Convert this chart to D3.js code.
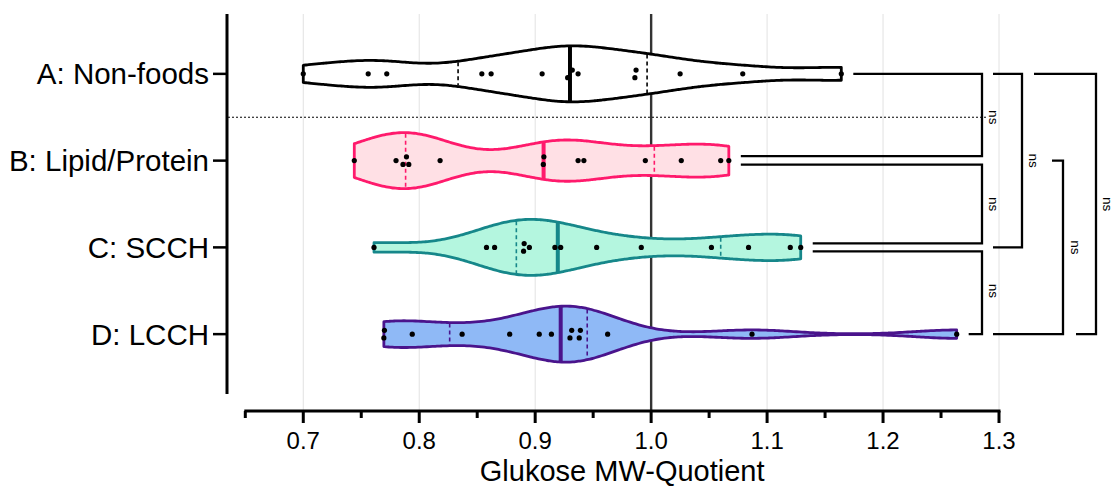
<!DOCTYPE html>
<html>
<head>
<meta charset="utf-8">
<script src="https://cdn.jsdelivr.net/npm/d3@7"></script>
<style>
  html, body { margin: 0; padding: 0; background: #ffffff; }
  svg { display: block; }
  text { font-family: Arial, "Liberation Sans", sans-serif; fill: #000; }
</style>
</head>
<body>
<svg id="chart" width="1114" height="491"></svg>
<script>
// Group labels (top to bottom)
const categories = ["A: Non-foods", "B: Lipid/Protein", "C: SCCH", "D: LCCH"];

// Glucose MW-quotient per item, one array per group
const nonFoods = [0.700, 0.756, 0.772, 0.854, 0.862, 0.906, 0.928, 0.932, 0.937, 0.986, 0.987, 1.025, 1.079, 1.164];
const lipidProtein = [0.744, 0.780, 0.786, 0.789, 0.791, 0.818, 0.907, 0.9075, 0.937, 0.942, 0.995, 1.026, 1.060, 1.067];
const scch = [0.761, 0.858, 0.865, 0.890, 0.8905, 0.895, 0.917, 0.922, 0.953, 0.9915, 1.052, 1.084, 1.120, 1.129];
const lcch = [0.7695, 0.770, 0.794, 0.837, 0.878, 0.9035, 0.914, 0.930, 0.9315, 0.938, 0.939, 0.9625, 1.087, 1.2635];

// Axis ticks
const majorTicks = [0.7, 0.8, 0.9, 1.0, 1.1, 1.2, 1.3];
const minorTicks = [0.65, 0.75, 0.85, 0.95, 1.05, 1.15, 1.25];
const tickLabels = ["0.7", "0.8", "0.9", "1.0", "1.1", "1.2", "1.3"];
const axisTitle = "Glukose MW-Quotient";

// Pairwise comparisons and their results
const comparisonPairs = [["A", "B"], ["B", "C"], ["C", "D"], ["A", "C"], ["B", "D"], ["A", "D"]];
const comparisonLabels = ["ns", "ns", "ns", "ns", "ns", "ns"];

const groupValues = [nonFoods, lipidProtein, scch, lcch];
const groupStyles = [
  { fill: "#ffffff", stroke: "#000000" },
  { fill: "#ffe0e5", stroke: "#ff1a6c" },
  { fill: "#b4f6df", stroke: "#16878a" },
  { fill: "#8fb9f6", stroke: "#4a148c" }
];

const svg = d3.select("#chart");

const x = d3.scaleLinear().domain([0.65, 1.3]).range([245.3, 999]);
const y = d3.scalePoint().domain(categories).range([14, 394]).padding(0.69);

const axisY = 411;
const plotTop = 14;

// Light vertical gridlines
svg.append("g")
  .selectAll("line")
  .data(majorTicks)
  .join("line")
  .attr("x1", d => x(d)).attr("x2", d => x(d))
  .attr("y1", plotTop).attr("y2", axisY)
  .attr("stroke", "#e2e2e2").attr("stroke-width", 1);

// Reference line at quotient 1.0
svg.append("line")
  .attr("x1", x(1.0)).attr("x2", x(1.0))
  .attr("y1", plotTop).attr("y2", axisY)
  .attr("stroke", "#333333").attr("stroke-width", 2.4);

// Dotted separator between the non-food group and the food groups
const sepY = (y(categories[0]) + y(categories[1])) / 2;
svg.append("line")
  .attr("x1", 228).attr("x2", 988)
  .attr("y1", sepY).attr("y2", sepY)
  .attr("stroke", "#000").attr("stroke-width", 1)
  .attr("stroke-dasharray", "2,2");

// Quartiles with the (n+1)p rule
function quartile(sorted, p) {
  const n = sorted.length;
  const pos = (n + 1) * p;
  const lo = Math.floor(pos);
  const frac = pos - lo;
  if (lo < 1) return sorted[0];
  if (lo >= n) return sorted[n - 1];
  return sorted[lo - 1] + frac * (sorted[lo] - sorted[lo - 1]);
}

const bandwidth = 0.036;
const halfMax = 28;

function density(values, v) {
  let s = 0;
  for (const d of values) {
    const z = (v - d) / bandwidth;
    s += Math.exp(-0.5 * z * z);
  }
  return s;
}

const violins = svg.append("g");

groupValues.forEach((vals, i) => {
  const cy = y(categories[i]);
  const style = groupStyles[i];
  const sorted = vals.slice().sort(d3.ascending);
  const lo = sorted[0], hi = sorted[sorted.length - 1];
  const steps = 200;
  const grid = d3.range(steps + 1).map(k => lo + (hi - lo) * k / steps);
  const dens = grid.map(v => density(sorted, v));
  const maxD = d3.max(dens);
  const w = d3.scaleLinear().domain([0, maxD]).range([0, halfMax]);
  const pts = grid.map((v, k) => ({ v, h: w(dens[k]) }));

  const area = d3.area()
    .x(d => x(d.v))
    .y0(d => cy + d.h)
    .y1(d => cy - d.h)
    .curve(d3.curveBasis);

  const g = violins.append("g");
  g.append("path")
    .attr("d", area(pts))
    .attr("fill", style.fill)
    .attr("stroke", style.stroke)
    .attr("stroke-width", 2.8)
    .attr("stroke-linejoin", "round");

  const halfAt = v => w(density(sorted, v));

  // Quartile lines (dashed) and median (thick)
  [0.25, 0.75].forEach(p => {
    const q = quartile(sorted, p);
    const hq = halfAt(q);
    g.append("line")
      .attr("x1", x(q)).attr("x2", x(q))
      .attr("y1", cy - hq + 1).attr("y2", cy + hq - 1)
      .attr("stroke", style.stroke).attr("stroke-width", 1.6)
      .attr("stroke-dasharray", "4,3");
  });
  const med = quartile(sorted, 0.5);
  const hm = halfAt(med);
  g.append("line")
    .attr("x1", x(med)).attr("x2", x(med))
    .attr("y1", cy - hm).attr("y2", cy + hm)
    .attr("stroke", style.stroke).attr("stroke-width", 4);

  // Individual points, nudged apart where they overlap
  const px = sorted.map(v => x(v));
  const offsets = new Array(px.length).fill(0);
  let start = 0;
  for (let k = 1; k <= px.length; k++) {
    if (k === px.length || px[k] - px[k - 1] >= 5) {
      const size = k - start;
      if (size > 1) {
        for (let m = 0; m < size; m++) offsets[start + m] = (m % 2 === 0 ? 3.8 : -3.8);
      }
      start = k;
    }
  }
  g.selectAll("circle")
    .data(sorted)
    .join("circle")
    .attr("cx", d => x(d))
    .attr("cy", (d, k) => cy + offsets[k])
    .attr("r", 2.6)
    .attr("fill", "#000");
});

// X axis
const xAxis = svg.append("g");
xAxis.append("line")
  .attr("x1", x(0.65) - 1).attr("x2", x(1.3) + 1.5)
  .attr("y1", axisY).attr("y2", axisY)
  .attr("stroke", "#000").attr("stroke-width", 3);
xAxis.selectAll("line.major")
  .data(majorTicks)
  .join("line")
  .attr("class", "major")
  .attr("x1", d => x(d)).attr("x2", d => x(d))
  .attr("y1", axisY).attr("y2", axisY + 12)
  .attr("stroke", "#000").attr("stroke-width", 3);
xAxis.selectAll("line.minor")
  .data(minorTicks)
  .join("line")
  .attr("class", "minor")
  .attr("x1", d => x(d)).attr("x2", d => x(d))
  .attr("y1", axisY).attr("y2", axisY + 7)
  .attr("stroke", "#000").attr("stroke-width", 3);
xAxis.selectAll("text")
  .data(majorTicks)
  .join("text")
  .attr("x", d => x(d))
  .attr("y", 449)
  .attr("text-anchor", "middle")
  .attr("font-size", 24)
  .text((d, k) => tickLabels[k]);
svg.append("text")
  .attr("x", (x(0.65) + x(1.3)) / 2)
  .attr("y", 481)
  .attr("text-anchor", "middle")
  .attr("font-size", 29)
  .text(axisTitle);

// Y axis
const yAxis = svg.append("g");
yAxis.append("line")
  .attr("x1", 227).attr("x2", 227)
  .attr("y1", plotTop).attr("y2", 394)
  .attr("stroke", "#000").attr("stroke-width", 3);
yAxis.selectAll("line.tick")
  .data(categories)
  .join("line")
  .attr("class", "tick")
  .attr("x1", 213).attr("x2", 227)
  .attr("y1", d => y(d)).attr("y2", d => y(d))
  .attr("stroke", "#000").attr("stroke-width", 2.5);
yAxis.selectAll("text")
  .data(categories)
  .join("text")
  .attr("x", 209)
  .attr("y", d => y(d))
  .attr("dy", "0.36em")
  .attr("text-anchor", "end")
  .attr("font-size", 29.5)
  .text(d => d);

// Comparison brackets
const catByKey = {};
categories.forEach((c, i) => { catByKey[c[0]] = i; });
const groupMaxX = groupValues.map(v => x(d3.max(v)));
const axisEnd = x(1.3);
// Layout per comparison: vertical x, start x at each end, y offsets at each end, label x
const bracketLayout = [
  { vx: axisEnd - 17, x1: null, x2: null, dy1: 0, dy2: -4.5, lx: axisEnd - 5 },
  { vx: axisEnd - 17, x1: null, x2: null, dy1: 4, dy2: -4, lx: axisEnd - 5 },
  { vx: axisEnd - 17, x1: null, x2: null, dy1: 4, dy2: 0, lx: axisEnd - 5 },
  { vx: axisEnd + 23, x1: axisEnd - 6, x2: axisEnd - 6, dy1: 0, dy2: 0, lx: axisEnd + 35 },
  { vx: axisEnd + 64, x1: axisEnd + 53, x2: axisEnd - 6, dy1: 0, dy2: 0, lx: axisEnd + 77 },
  { vx: axisEnd + 97, x1: axisEnd + 35, x2: axisEnd + 77, dy1: 0, dy2: 0, lx: axisEnd + 109 }
];
const brackets = svg.append("g");
comparisonPairs.forEach((pair, k) => {
  const L = bracketLayout[k];
  const i1 = catByKey[pair[0]], i2 = catByKey[pair[1]];
  const y1 = y(categories[i1]) + L.dy1;
  const y2 = y(categories[i2]) + L.dy2;
  const sx1 = L.x1 === null ? groupMaxX[i1] + 12 : L.x1;
  const sx2 = L.x2 === null ? groupMaxX[i2] + 12 : L.x2;
  brackets.append("path")
    .attr("d", `M${sx1},${y1}H${L.vx}V${y2}H${sx2}`)
    .attr("fill", "none")
    .attr("stroke", "#000")
    .attr("stroke-width", 2.3);
  const my = (y(categories[i1]) + y(categories[i2])) / 2;
  brackets.append("text")
    .attr("transform", `translate(${L.lx},${my}) rotate(90)`)
    .attr("text-anchor", "middle")
    .attr("dy", "0.35em")
    .attr("font-size", 13.5)
    .text(comparisonLabels[k]);
});
</script>
</body>
</html>
